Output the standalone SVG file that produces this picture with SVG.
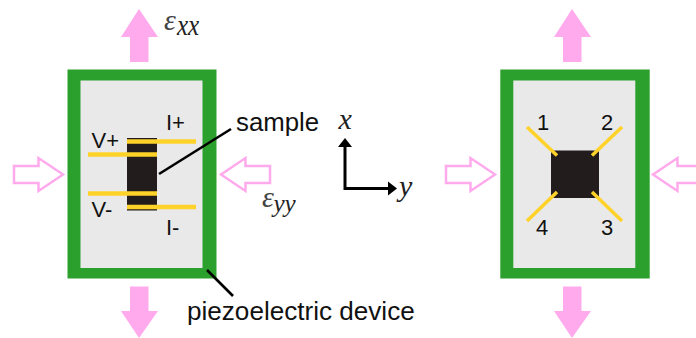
<svg xmlns="http://www.w3.org/2000/svg" width="696" height="338" viewBox="0 0 696 338">
<style>
.outer{fill:#2ca02c}
.inner{fill:#e9e9e9}
.solid{fill:#ffaaec}
.hollow{fill:#fff;stroke:#ffaaec;stroke-width:2.500}
.sample{fill:#231c1c}
.wire{stroke:#ffd22a;fill:none}
.lead{stroke:#000;stroke-width:2.600;fill:none}
.s{font-family:"Liberation Sans",Arial,sans-serif;fill:#111}
.m{font-family:"Liberation Serif","Times New Roman",serif;font-style:italic;fill:#222}
.e{fill:#444}
.ax{stroke:#000;stroke-width:3;fill:none}
</style>
<defs>
<path id="up" class="solid" d="M139 9L158 37H148.500V62H130V37H121Z"/>
<path id="down" class="solid" d="M139 338L121 311H130V286.500H148.500V311H158Z"/>
<path id="inR" class="hollow" d="M14 166H38.500V158L63 174.500L38.500 191V183H14Z"/>
<path id="inL" class="hollow" d="M270 166H245.500V158L221 174.500L245.500 191V183H270Z"/>
</defs>
<g id="left-device">
<rect class="outer" x="67.500" y="69.500" width="149" height="209"/>
<rect class="inner" x="80.500" y="80.500" width="122" height="187.500"/>
</g>
<g id="right-device">
<rect class="outer" x="500.300" y="69.500" width="149.400" height="209"/>
<rect class="inner" x="513.300" y="80.500" width="122" height="187.500"/>
</g>
<g id="left-arrows">
<use href="#up"/><use href="#down"/><use href="#inR"/><use href="#inL"/>
</g>
<g id="right-arrows">
<use href="#up" x="433"/><use href="#down" x="433"/><use href="#inR" x="432"/><use href="#inL" x="432"/>
</g>
<g id="left-sample">
<rect class="sample" x="127" y="138" width="30" height="72.500"/>
<g class="wire" stroke-width="4.500">
<path d="M127 141.500H196"/><path d="M88 154.500H157"/><path d="M88 193.500H157"/><path d="M127 207H196"/>
</g>
<g class="s" font-size="22">
<text x="91.500" y="148">V+</text><text x="166" y="130">I+</text><text x="91.500" y="217">V-</text><text x="166" y="235">I-</text>
</g>
</g>
<g id="right-sample">
<rect class="sample" x="551" y="150.500" width="48" height="47.500"/>
<g class="wire" stroke-width="3.500">
<path d="M527 127L557 155.500"/><path d="M622 127L592 155.500"/><path d="M622 221L592 192"/><path d="M527 221L557 192"/>
</g>
<g class="s" font-size="22">
<text x="537" y="130">1</text><text x="601" y="130">2</text><text x="601" y="235">3</text><text x="536" y="235">4</text>
</g>
</g>
<g id="connectors">
<path class="lead" d="M159 174L231 129"/>
<path class="lead" d="M207 270L233 296"/>
</g>
<g id="labels">
<text class="s" x="236" y="130.500" font-size="25.800">sample</text>
<text class="s" x="187" y="320" font-size="26.100">piezoelectric device</text>
<text class="m e" x="164" y="30" font-size="30">ε</text>
<text class="m" x="177" y="35" font-size="25" transform="translate(0 -6.500) scale(1 1.180)">xx</text>
<text class="m e" x="262" y="207" font-size="30">ε</text>
<text class="m" x="273.500" y="212" font-size="25">yy</text>
</g>
<g id="axes">
<path class="ax" d="M345 147V188.500H388"/>
<path fill="#000" d="M345 138L352 147H338Z"/>
<path fill="#000" d="M397 188.500L388 181.500V195.500Z"/>
<text class="m" x="338.500" y="129" font-size="30">x</text>
<text class="m" x="399" y="196" font-size="30">y</text>
</g>
</svg>
